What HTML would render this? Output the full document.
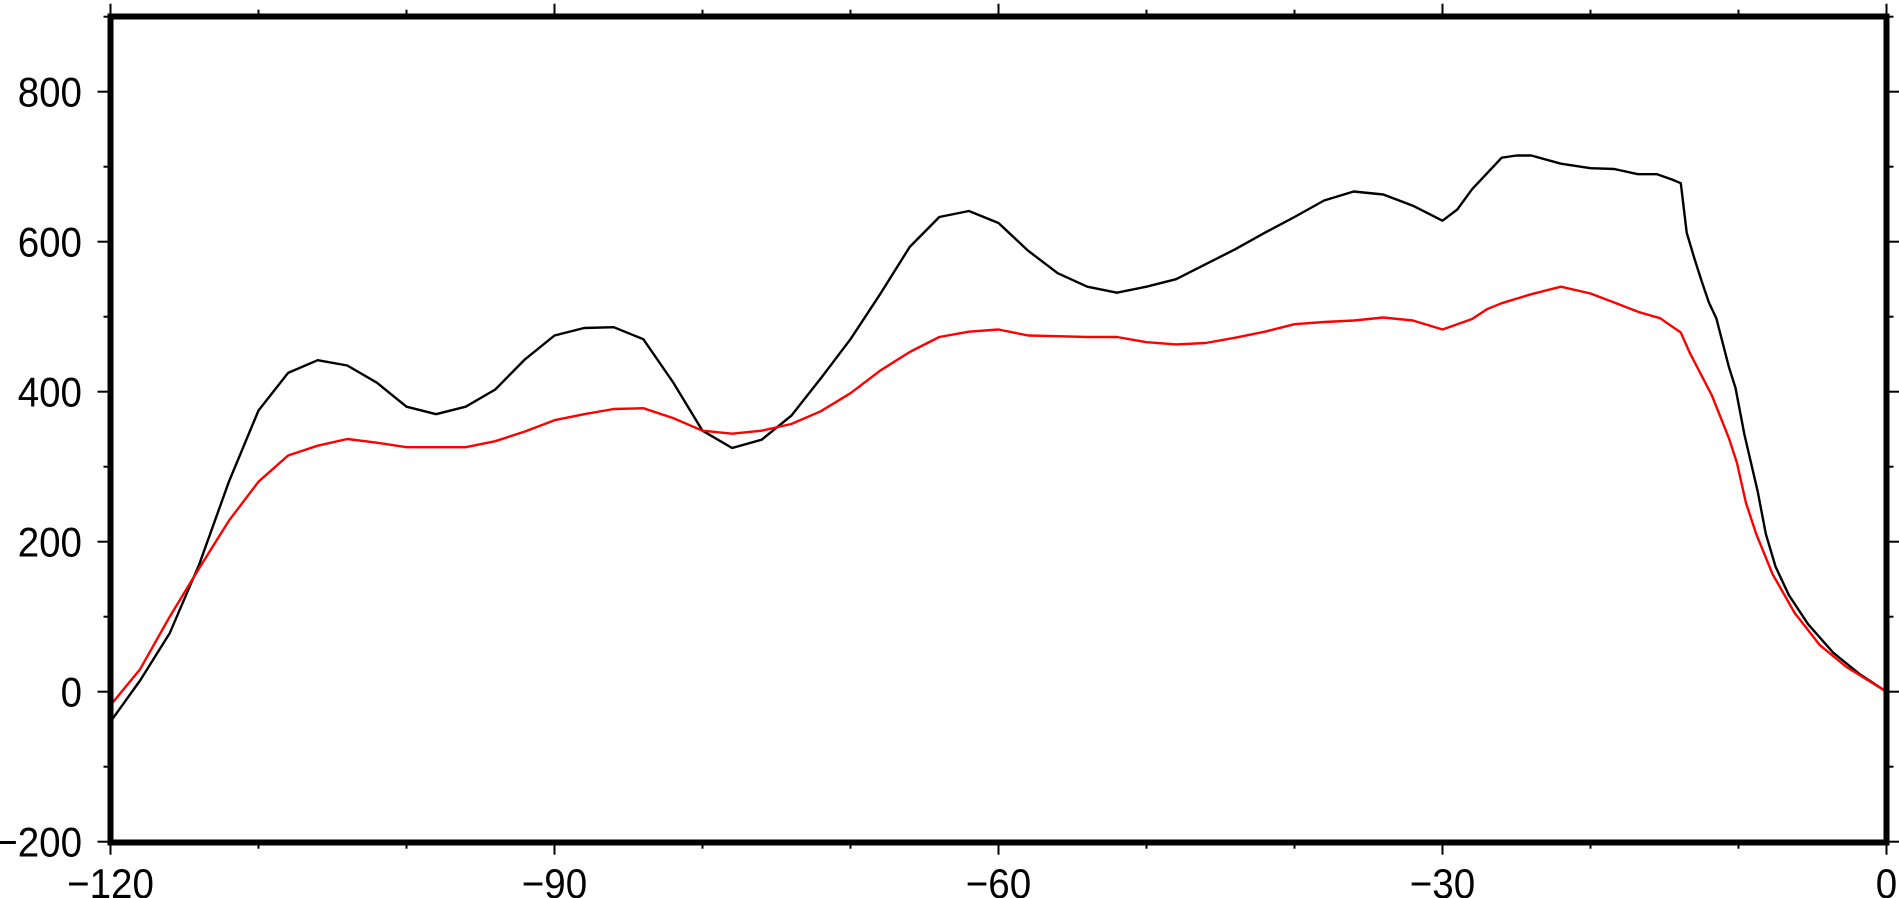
<!DOCTYPE html>
<html><head><meta charset="utf-8"><style>
html,body{margin:0;padding:0;background:#fff;overflow:hidden;}
svg{display:block;font-family:"Liberation Sans",sans-serif;}
</style></head><body>
<svg id="chart" width="1899" height="898" viewBox="0 0 1899 898" xmlns="http://www.w3.org/2000/svg">
<g id="grid"></g>
<g id="series"></g>
<rect x="110.5" y="16.5" width="1776" height="826" fill="none" stroke="#000" stroke-width="6"/>
</svg>
<script>
const xTicks = [-120,-90,-60,-30,0];
const xTickLabels = ["\u2212120","\u221290","\u221260","\u221230","0"];
const yTicks = [-200,0,200,400,600,800];
const yTickLabels = ["\u2212200","0","200","400","600","800"];
const blackX = [-120,-118,-116,-114,-112,-110,-108,-106,-104,-102,-100,-98,-96,-94,-92,-90,-88,-86,-84,-82,-80,-78,-76,-74,-72,-70,-68,-66,-64,-62,-60,-58,-56,-54,-52,-50,-48,-46,-44,-42,-40,-38,-36,-34,-32,-30,-29,-28,-26,-25,-24,-22,-20,-18.4,-16.8,-15.5,-14.5,-13.9,-13.5,-13.0,-12.5,-12.0,-11.5,-10.65,-10.2,-9.6,-8.7,-8.15,-7.5,-6.6,-5.3,-3.6,-1.85,0];
const blackY = [-40,15,78,170,280,375,425,442,435,412,380,370,380,403,443,475,485,486,470,413,348,325,336,368,418,470,530,593,633,641,625,588,558,540,532,540,550,570,590,612,633,655,667,663,648,628,643,670,712,715,715,704,698,697,690,690,683,678,612,579,548,519,498,433,405,343,267,210,167,129,90,52,24,0];
const redX = [-120,-118,-116,-114,-112,-110,-108,-106,-104,-102,-100,-98,-96,-94,-92,-90,-88,-86,-84,-82,-80,-78,-76,-74,-72,-70,-68,-66,-64,-62,-60,-58,-56,-54,-52,-50,-48,-46,-44,-42,-40,-38,-36,-34,-32,-30,-28,-27,-26,-24,-22,-20,-18.4,-16.7,-15.3,-13.9,-13.3,-11.8,-10.65,-10.1,-9.5,-8.8,-7.7,-6.2,-4.5,-2.7,0];
const redY = [-18,30,100,165,228,280,315,328,337,332,326,326,326,334,347,362,370,377,378,365,348,344,348,357,374,398,428,453,473,480,483,475,474,473,473,466,463,465,472,480,490,493,495,499,495,483,497,510,518,530,540,531,519,506,498,479,452,395,338,305,252,210,157,105,62,33,0];

const X0=110.5, X1=1886.5, Y0=841.7, Y1=16.7;
const sx = v => X0 + (v+120)/120*(X1-X0);
const sy = v => Y0 - (v+200)/1100*(Y0-Y1);
const NS="http://www.w3.org/2000/svg";
const g=document.getElementById('grid'), s=document.getElementById('series');
function mk(tag,attrs,parent){const e=document.createElementNS(NS,tag);for(const k in attrs)e.setAttribute(k,attrs[k]);parent.appendChild(e);return e;}
function fitText(t){
  const w=t.getComputedTextLength();
  t.setAttribute('font-size',42);
  t.setAttribute('textLength',(w*1.07).toFixed(1));
  t.setAttribute('lengthAdjust','spacingAndGlyphs');
}
for(let v=-120; v<=0; v+=10){
  const major = v%30===0, len = major?13:7;
  const l1=mk('line',{x1:sx(v),x2:sx(v),y1:Y0,y2:Y0+len,stroke:'#000','stroke-width':2},g);
  
  
  const l2=mk('line',{x1:sx(v),x2:sx(v),y1:Y1,y2:Y1-len,stroke:'#000','stroke-width':2},g);
  
  
}
xTicks.forEach((v,i)=>{
  const t=mk('text',{x:sx(v),y:898,'text-anchor':'middle','font-size':36},g);
  t.textContent=xTickLabels[i];
  
  
  fitText(t);
});
for(let v=-200; v<=900; v+=100){
  const major = v%200===0, len = major?13:7;
  const l1=mk('line',{x1:X0,x2:X0-len,y1:sy(v),y2:sy(v),stroke:'#000','stroke-width':2},g);
  
  
  const l2=mk('line',{x1:X1,x2:X1+len,y1:sy(v),y2:sy(v),stroke:'#000','stroke-width':2},g);
  
  
}
yTicks.forEach((v,i)=>{
  const t=mk('text',{x:82,y:sy(v)+15,'text-anchor':'end','font-size':36},g);
  t.textContent=yTickLabels[i];
  
  
  fitText(t);
});
function line(xs,ys,color,name){
  const d=xs.map((x,i)=>(i?'L':'M')+sx(x).toFixed(1)+','+sy(ys[i]).toFixed(1)).join('');
  const p=mk('path',{d:d,fill:'none',stroke:color,'stroke-width':2.4,'stroke-linejoin':'round'},s);
  
  
}
line(blackX,blackY,'#000','black-series-line');
line(redX,redY,'#f00','red-series-line');
</script>
</body></html>
